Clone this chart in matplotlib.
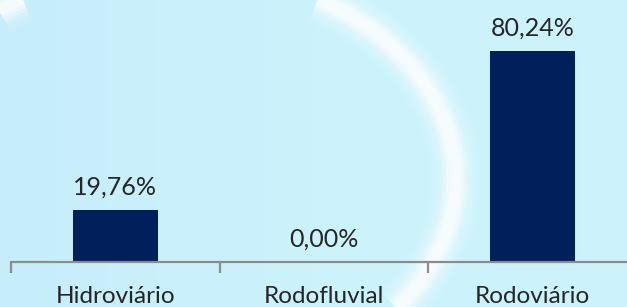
import matplotlib
matplotlib.use("Agg")
import matplotlib.pyplot as plt
import numpy as np

categories = ["Hidroviário", "Rodofluvial", "Rodoviário"]
values = [19.76, 0.00, 80.24]
labels = ["19,76%", "0,00%", "80,24%"]

W, H = 627, 307
fig = plt.figure(figsize=(W / 100, H / 100), dpi=100)
fig.patch.set_facecolor("#CBF2FC")

# decorative white swoosh in background (figure pixel coordinates)
bg = fig.add_axes([0, 0, 1, 1], zorder=0)
bg.set_xlim(0, W)
bg.set_ylim(H, 0)
bg.axis("off")
gx = np.linspace(0, 1, 200)
grad = np.tile(gx, (10, 1))
bg.imshow(grad, extent=[0, W, H, 0], cmap=matplotlib.colors.LinearSegmentedColormap.from_list(
    "g", ["#C6EDFA", "#CCF3FC", "#CCF3FC"]), aspect="auto", zorder=0)

pts = np.array([(0, 10), (330, 6), (370, 25), (400, 55), (430, 95), (450, 140),
                (457, 175), (452, 210), (440, 250), (420, 280), (398, 307)], float)
px, py = pts[:, 0] / 300, pts[:, 1] / 300
M = np.column_stack([px**2, px * py, py**2, px, py, np.ones_like(px)])
coef = np.linalg.svd(M)[2][-1]
gxx, gyy = np.meshgrid(np.linspace(-0.1, W / 300 + 0.1, 700), np.linspace(-0.2, H / 300 + 0.1, 400))
F = (coef[0] * gxx**2 + coef[1] * gxx * gyy + coef[2] * gyy**2 + coef[3] * gxx
     + coef[4] * gyy + coef[5])
for lw, a in [(36, 0.06), (30, 0.10), (24, 0.16), (18, 0.26), (13, 0.40), (8, 0.55)]:
    bg.contour(gxx * 300, gyy * 300, F, levels=[0], colors="white", linewidths=lw,
               alpha=a, zorder=1)

ax = fig.add_axes([11 / W, 45 / H, (636.5 - 11) / W, 262 / H], zorder=1)
ax.patch.set_alpha(0)
x = np.arange(len(categories))
ax.bar(x, values, width=0.41, color="#001F5B")
ax.set_xlim(-0.5, 2.5)
ax.set_ylim(0, 262 / 2.63)

for s in ["top", "right", "left"]:
    ax.spines[s].set_visible(False)
ax.spines["bottom"].set_color("#8C8C8C")
ax.spines["bottom"].set_linewidth(1.6)
ax.set_yticks([])
ax.set_xticks(x)
ax.set_xticklabels(categories, fontfamily="Lato", fontsize=17.5, color="#262626")
ax.tick_params(axis="x", which="major", length=0, pad=17)
ax.set_xticks([-0.5, 0.5, 1.5, 2.5], minor=True)
ax.tick_params(axis="x", which="minor", length=8, width=1.6, color="#8C8C8C")

for xi, v, lab in zip(x, values, labels):
    ax.annotate(lab, (xi, v), xytext=(0, 11), textcoords="offset pixels",
                ha="center", va="bottom", fontfamily="Lato", fontsize=18,
                color="#262626")

fig.savefig("out.png", dpi=100, facecolor=fig.get_facecolor())
